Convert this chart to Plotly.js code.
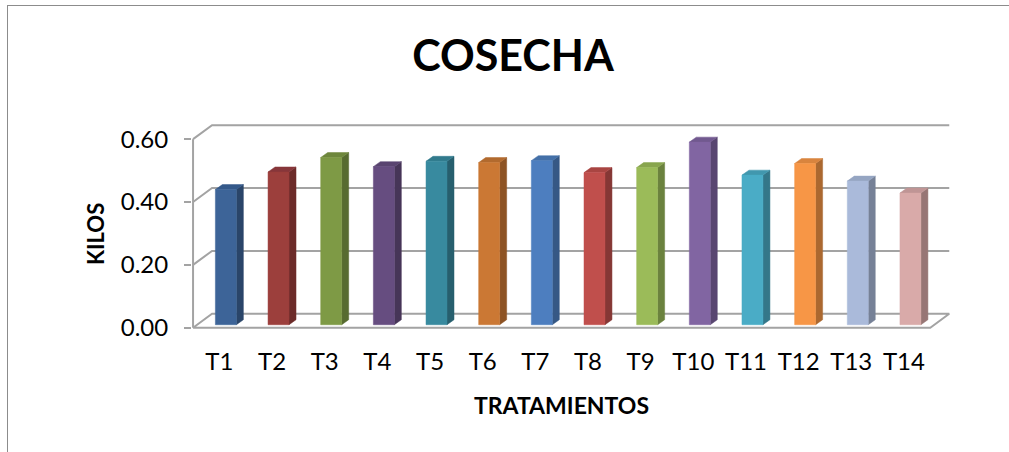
<!DOCTYPE html>
<html>
<head>
<meta charset="utf-8">
<script src="https://cdn.plot.ly/plotly-3.0.1.min.js"></script>
<style>
  html, body { margin: 0; padding: 0; background: #ffffff; overflow: hidden; width: 1009px; height: 452px; }
  #frame { position: absolute; left: 7px; top: 5px; width: 1100px; height: 600px;
           border-left: 1.5px solid #8c8c8c; border-top: 1.5px solid #8c8c8c; pointer-events: none; }
  #chart { position: absolute; left: 0; top: 0; width: 1009px; height: 452px; }
</style>
</head>
<body>
<div id="chart"></div>
<div id="frame"></div>
<script>
// ---- data ----
const categories = ['T1','T2','T3','T4','T5','T6','T7','T8','T9','T10','T11','T12','T13','T14'];
const kilos = [0.43, 0.486, 0.532, 0.503, 0.52, 0.516, 0.522, 0.484, 0.50, 0.581, 0.476, 0.513, 0.457, 0.419];
const yTickValues = [0, 0.2, 0.4, 0.6];
const yTickLabels = ['0.00', '0.20', '0.40', '0.60'];

// ---- styles ----
const frontColors = ['#3D6498','#9C3F3C','#7E9A45','#664D80','#388A9F','#CB7834','#4D7EBF','#C04F4C','#9BBB59','#8165A2','#4AACC6','#F79646','#AABADA','#D9AAA9'];
const sideColors  = ['#2A4569','#6C2B29','#576B30','#463558','#275F6E','#8D5324','#365885','#853735','#6B823E','#594671','#347789','#AB6830','#768197','#977675'];
const topColors   = ['#34598A','#87363A','#6E873C','#594470','#317A8C','#B26A2E','#4470A8','#A94542','#88A54E','#71598F','#4197AE','#D9843E','#95A5C2','#BF9595'];
const gridColor = '#a3a3a3';
const FONT = 'Lato, "Open Sans", sans-serif';

// pixel -> data unit conversion (scale of the axes set below)
const PXX = 52.7;   // px per category
const PXY = 315;    // px per kilo
const X = (c, dpx) => c + dpx / PXX;
const Y = (v, dpx) => v + dpx / PXY;

// 3-D depth offsets (px)
const DEPTH_X = 19, DEPTH_Y = 14;   // wall depth
const BAR_DX = 7, BAR_DY = 5;       // bar depth
const BAR_L = -4, BAR_R = 17, BAR_B = 3;

const traces = [];
const nCat = categories.length;
const yMax = yTickValues[yTickValues.length - 1];

// floor
traces.push({
  x: [X(0,0), X(0,DEPTH_X), X(nCat,DEPTH_X), X(nCat,0), X(0,0)],
  y: [0, Y(0,DEPTH_Y), Y(0,DEPTH_Y), 0, 0],
  mode: 'lines', line: {color: gridColor, width: 2}, hoverinfo: 'skip', showlegend: false
});
// gridlines on side and back walls
yTickValues.slice(1).forEach(v => {
  traces.push({
    x: [X(0,0), X(0,DEPTH_X), X(nCat,DEPTH_X)],
    y: [v, Y(v,DEPTH_Y), Y(v,DEPTH_Y)],
    mode: 'lines', line: {color: gridColor, width: 2}, hoverinfo: 'skip', showlegend: false
  });
});
// front vertical axis
traces.push({
  x: [0, 0], y: [0, yMax],
  mode: 'lines', line: {color: gridColor, width: 2}, hoverinfo: 'skip', showlegend: false
});

// bars
kilos.forEach((v, i) => {
  const c = i + 0.5;
  const xL = X(c, BAR_L), xR = X(c, BAR_R);
  const yb = Y(0, BAR_B), yt = Y(v, BAR_B);
  const poly = (xs, ys, col, name) => traces.push({
    x: xs, y: ys, mode: 'lines', fill: 'toself', fillcolor: col,
    line: {width: 0.5, color: col}, hoverinfo: name ? 'text' : 'skip',
    text: name, showlegend: false
  });
  // side
  poly([xR, X(xR,BAR_DX), X(xR,BAR_DX), xR, xR],
       [yb, Y(yb,BAR_DY), Y(yt,BAR_DY), yt, yb], sideColors[i]);
  // top
  poly([xL, xR, X(xR,BAR_DX), X(xL,BAR_DX), xL],
       [yt, yt, Y(yt,BAR_DY), Y(yt,BAR_DY), yt], topColors[i]);
  // front
  poly([xL, xR, xR, xL, xL], [yb, yb, yt, yt, yb], frontColors[i],
       categories[i] + ': ' + v.toFixed(2));
});

// layout geometry
const ml = 191.9, mr = 54.5, mt = 113.8, mb = 117.7;
const pw = 1009 - ml - mr, ph = 452 - mt - mb;
const px2paperX = px => (px - ml) / pw;
const px2paperY = py => (452 - mb - py) / ph;

const layout = {
  width: 1009, height: 452,
  margin: {l: ml, r: mr, t: mt, b: mb, autoexpand: false},
  paper_bgcolor: 'rgba(0,0,0,0)', plot_bgcolor: 'rgba(0,0,0,0)',
  font: {family: FONT, color: '#000000'},
  title: {
    text: '<b>COSECHA</b>', font: {size: 43, family: FONT, color: '#000000'},
    xref: 'container', yref: 'container', x: 513/1009, xanchor: 'center',
    y: 1 - 56/452, yanchor: 'middle'
  },
  xaxis: {
    range: [-0.02, -0.02 + pw / PXX],
    tickmode: 'array',
    tickvals: categories.map((_, i) => i + 0.5),
    ticktext: categories,
    ticks: '', showgrid: false, zeroline: false, showline: false,
    tickfont: {size: 24, family: FONT, color: '#000000'},
    ticklabelstandoff: 11,
    fixedrange: true
  },
  yaxis: {
    range: [-(ph - (328 - mt)) / PXY, (328 - mt) / PXY],
    tickmode: 'array', tickvals: yTickValues, ticktext: yTickLabels,
    ticks: 'outside', ticklen: 7, tickwidth: 2, tickcolor: gridColor,
    showgrid: false, zeroline: false, showline: false,
    tickfont: {size: 24, family: FONT, color: '#000000'},
    ticklabelstandoff: 11,
    fixedrange: true
  },
  annotations: [
    {text: '<b>KILOS</b>', xref: 'paper', yref: 'paper',
     x: px2paperX(96), y: px2paperY(234), xanchor: 'center', yanchor: 'middle',
     textangle: -90, showarrow: false, font: {size: 22, family: FONT, color: '#000000'}},
    {text: '<b>TRATAMIENTOS</b>', xref: 'paper', yref: 'paper',
     x: px2paperX(562), y: px2paperY(405), xanchor: 'center', yanchor: 'middle',
     showarrow: false, font: {size: 23, family: FONT, color: '#000000'}}
  ],
  showlegend: false
};

Plotly.newPlot('chart', traces, layout, {displayModeBar: false, staticPlot: true});
</script>
</body>
</html>
